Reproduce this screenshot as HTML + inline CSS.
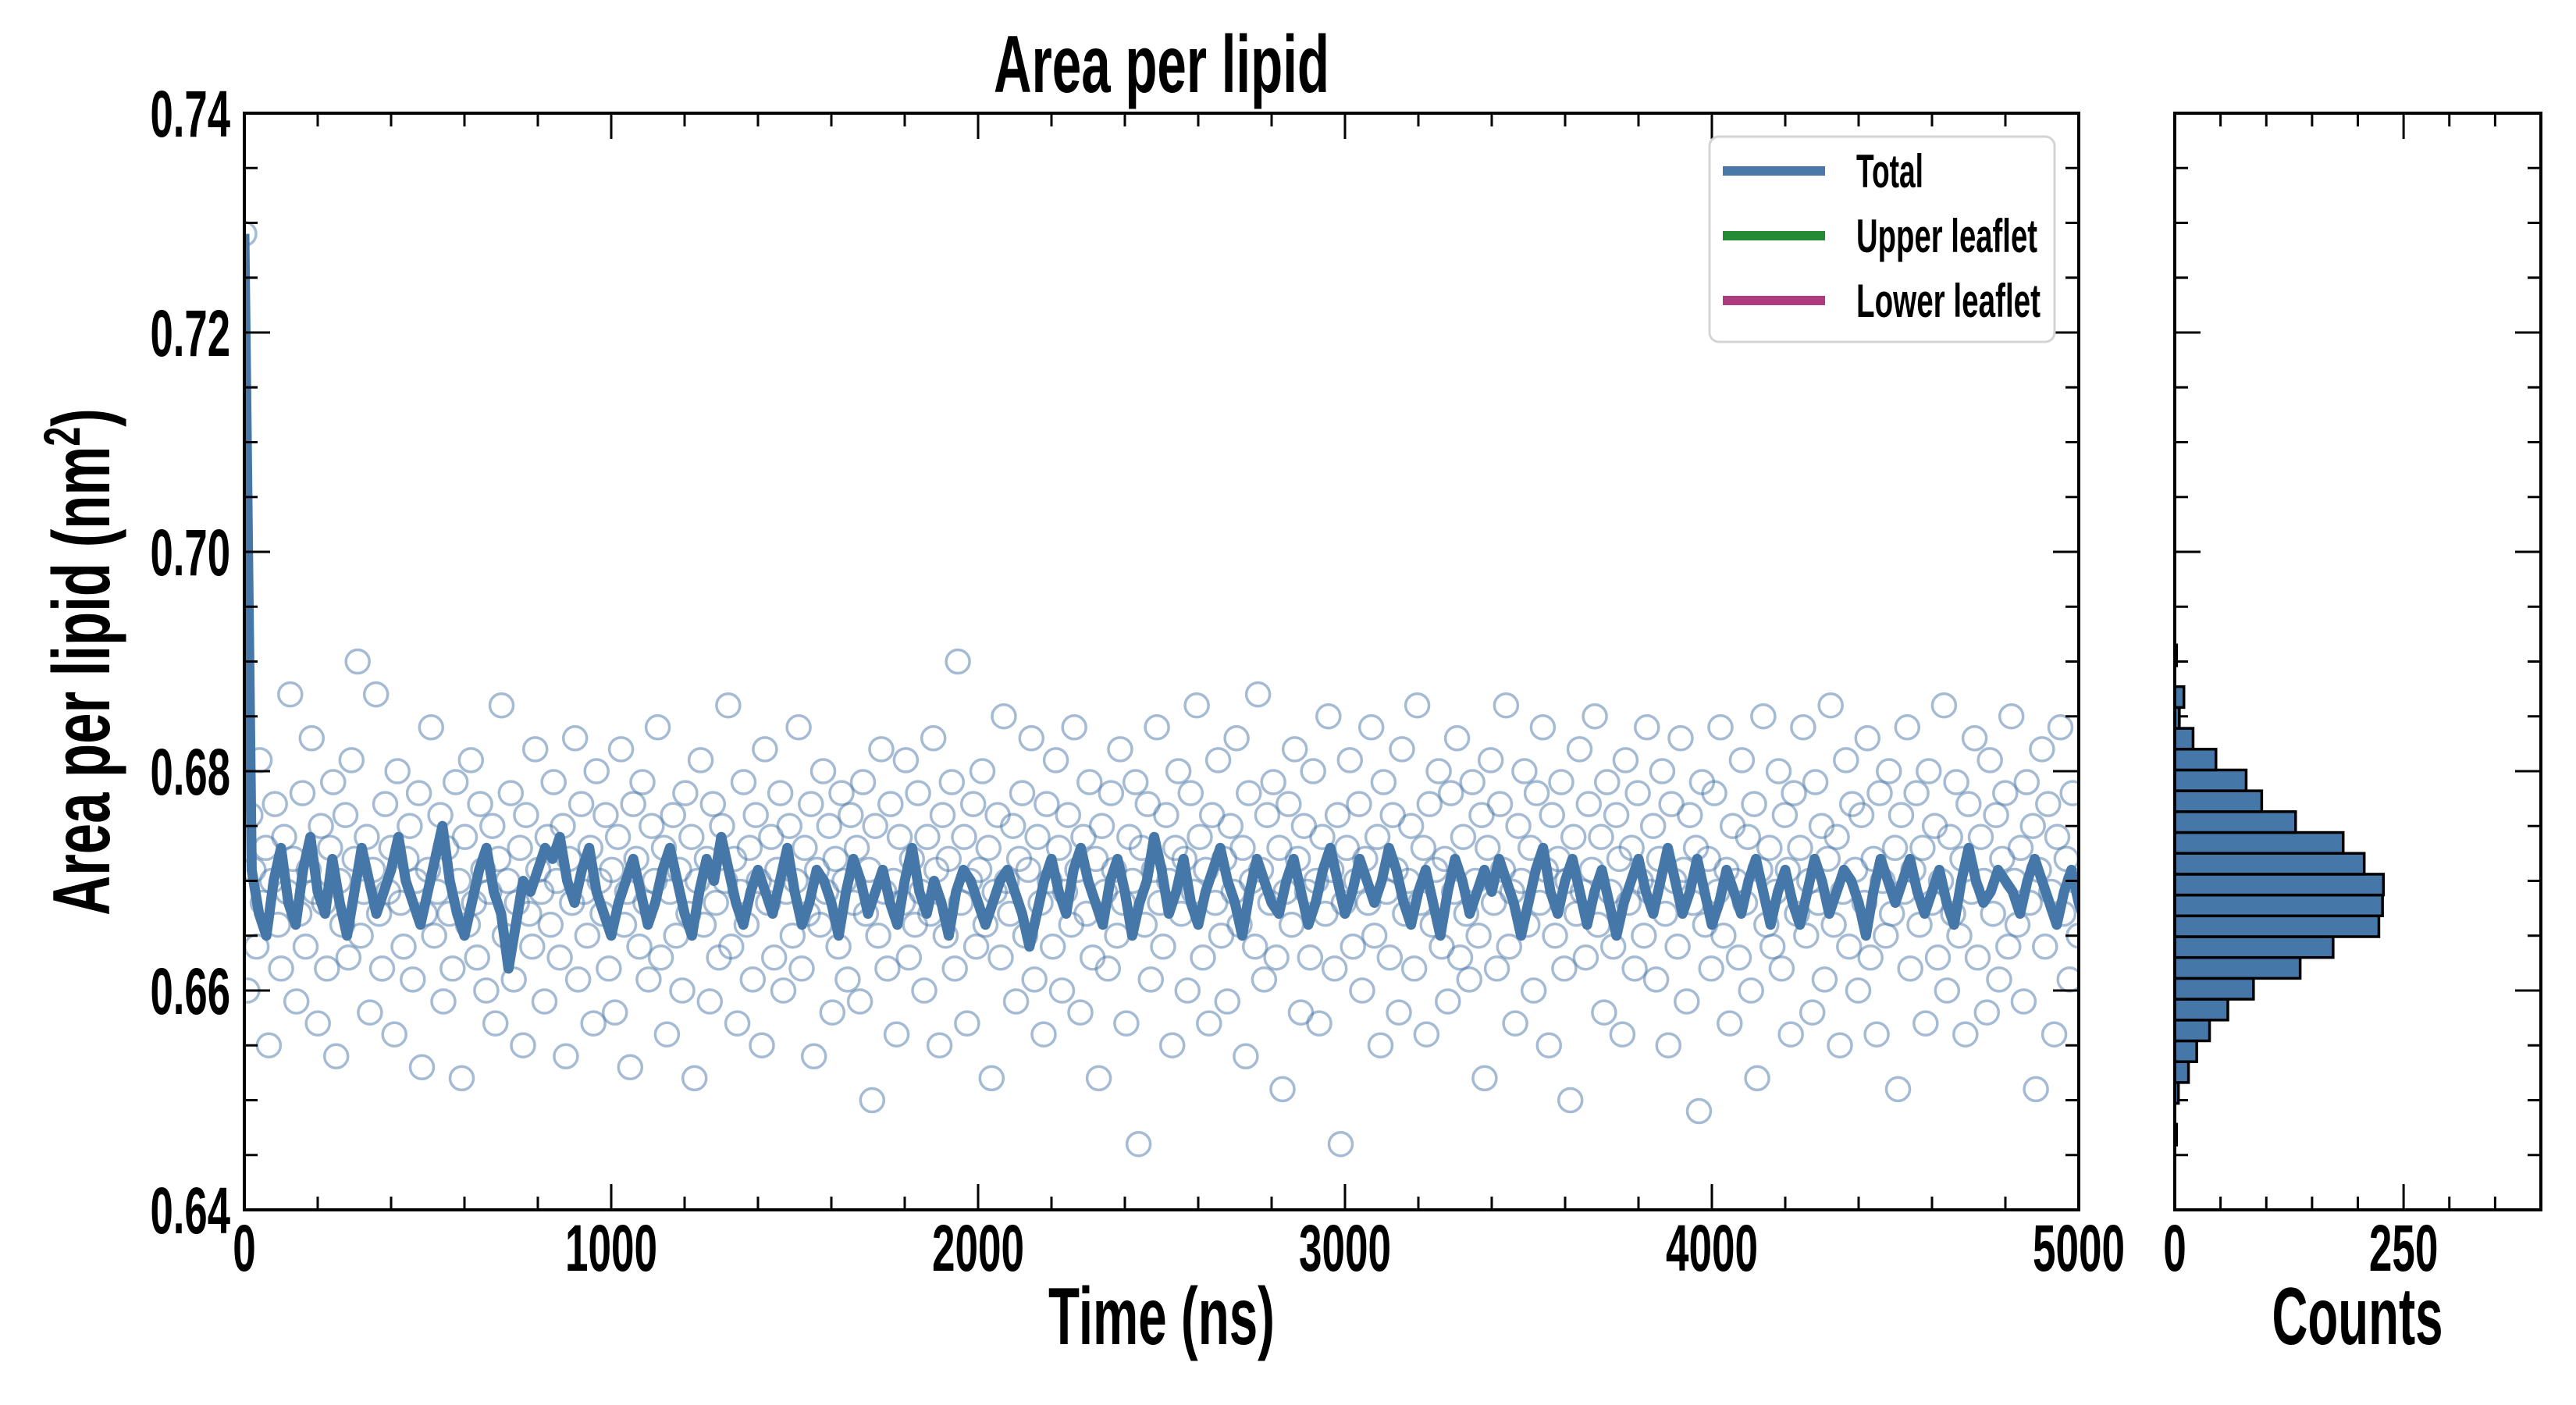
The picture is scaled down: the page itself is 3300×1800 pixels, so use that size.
<!DOCTYPE html>
<html><head><meta charset="utf-8">
<style>
html,body{margin:0;padding:0;background:#fff;}
svg{display:block;}
text{font-family:"Liberation Sans Narrow","Liberation Sans",sans-serif;font-weight:bold;fill:#000;}
</style></head>
<body>
<svg id="chart" xmlns="http://www.w3.org/2000/svg" width="3300" height="1800" viewBox="0 0 3300 1800">
<rect x="0" y="0" width="3300" height="1800" fill="#fff"/>
<g id="main"></g>
<g id="hist"></g>
</svg>
<script>
// ---- data ----
const timeRange = [0, 5000];
const yRange = [0.64, 0.74];
const xTickLabels = [0, 1000, 2000, 3000, 4000, 5000];
const yTickLabels = [0.64, 0.66, 0.68, 0.70, 0.72, 0.74];
const countTickLabels = [0, 250];
const countRange = [0, 400];
const lineStep = 20;
const totalLine = [
0.729,0.671,0.667,0.665,0.670,0.673,0.668,0.666,0.671,0.674,
0.669,0.667,0.672,0.668,0.665,0.669,0.673,0.670,0.667,0.669,
0.671,0.674,0.670,0.668,0.666,0.669,0.672,0.675,0.670,0.667,
0.665,0.668,0.671,0.673,0.669,0.667,0.662,0.666,0.670,0.669,
0.671,0.673,0.672,0.674,0.670,0.668,0.671,0.673,0.669,0.667,
0.665,0.668,0.670,0.672,0.669,0.666,0.668,0.671,0.673,0.670,
0.667,0.665,0.669,0.672,0.670,0.674,0.671,0.668,0.666,0.669,
0.671,0.669,0.667,0.670,0.673,0.669,0.666,0.668,0.671,0.670,
0.668,0.665,0.669,0.672,0.670,0.667,0.669,0.671,0.668,0.666,
0.670,0.673,0.669,0.667,0.670,0.668,0.665,0.669,0.671,0.670,
0.668,0.666,0.668,0.670,0.671,0.669,0.667,0.664,0.667,0.670,
0.672,0.669,0.667,0.671,0.673,0.670,0.668,0.666,0.670,0.672,
0.669,0.665,0.668,0.670,0.674,0.671,0.667,0.669,0.672,0.668,
0.666,0.669,0.671,0.673,0.670,0.668,0.665,0.669,0.672,0.670,
0.668,0.667,0.670,0.672,0.669,0.666,0.668,0.671,0.673,0.670,
0.667,0.669,0.672,0.670,0.668,0.670,0.673,0.671,0.668,0.666,
0.669,0.671,0.668,0.665,0.669,0.672,0.670,0.667,0.669,0.671,
0.669,0.672,0.670,0.668,0.665,0.668,0.671,0.673,0.669,0.667,
0.670,0.672,0.669,0.666,0.669,0.671,0.668,0.665,0.668,0.670,
0.672,0.669,0.667,0.670,0.673,0.670,0.667,0.669,0.672,0.669,
0.666,0.668,0.671,0.669,0.667,0.670,0.672,0.669,0.666,0.669,
0.671,0.668,0.666,0.669,0.672,0.670,0.667,0.669,0.671,0.670,
0.668,0.665,0.669,0.672,0.670,0.668,0.670,0.672,0.669,0.667,
0.669,0.671,0.668,0.666,0.670,0.673,0.670,0.668,0.669,0.671,
0.670,0.669,0.667,0.670,0.672,0.670,0.668,0.666,0.669,0.671,
0.668,0.666,0.669,0.671,0.669,0.667,0.670,0.672,0.669,0.667,
0.670,0.671,0.668,0.666,0.669,0.672,0.670,0.668,0.667,0.670,
0.671];
const scatterValues = [
0.729,0.660,0.676,0.671,0.664,0.681,0.668,0.673,0.655,0.670,0.677,0.666,0.662,0.674,0.669,0.687,0.672,0.659,0.667,0.678,
0.664,0.671,0.683,0.669,0.657,0.675,0.668,0.662,0.673,0.679,0.654,0.670,0.666,0.676,0.663,0.681,0.672,0.690,0.665,0.669,
0.674,0.658,0.671,0.687,0.667,0.662,0.677,0.669,0.673,0.656,0.680,0.668,0.664,0.672,0.675,0.661,0.670,0.678,0.653,0.667,
0.671,0.684,0.665,0.669,0.676,0.659,0.673,0.667,0.662,0.679,0.670,0.652,0.674,0.666,0.681,0.668,0.663,0.677,0.671,0.660,
0.669,0.675,0.657,0.672,0.686,0.665,0.670,0.678,0.661,0.668,0.673,0.655,0.676,0.667,0.664,0.682,0.671,0.669,0.659,0.674,
0.666,0.679,0.670,0.663,0.675,0.654,0.672,0.668,0.683,0.661,0.677,0.669,0.665,0.673,0.657,0.680,0.670,0.667,0.676,0.662,
0.671,0.658,0.674,0.682,0.666,0.669,0.653,0.677,0.672,0.664,0.679,0.668,0.661,0.675,0.670,0.684,0.663,0.673,0.656,0.669,
0.676,0.665,0.671,0.660,0.678,0.667,0.674,0.652,0.670,0.681,0.666,0.672,0.659,0.677,0.668,0.663,0.675,0.670,0.686,0.664,
0.672,0.657,0.669,0.679,0.666,0.673,0.661,0.676,0.670,0.655,0.682,0.668,0.674,0.663,0.671,0.678,0.660,0.669,0.675,0.665,
0.670,0.684,0.662,0.673,0.667,0.677,0.654,0.671,0.666,0.680,0.669,0.675,0.658,0.672,0.664,0.678,0.670,0.661,0.676,0.668,
0.673,0.659,0.679,0.667,0.671,0.650,0.675,0.665,0.682,0.669,0.662,0.677,0.670,0.656,0.674,0.668,0.681,0.663,0.672,0.666,
0.678,0.669,0.660,0.674,0.667,0.683,0.671,0.655,0.676,0.665,0.672,0.679,0.662,0.690,0.668,0.674,0.657,0.670,0.677,0.664,
0.671,0.680,0.666,0.673,0.652,0.669,0.676,0.663,0.685,0.670,0.667,0.675,0.659,0.672,0.678,0.665,0.671,0.683,0.661,0.674,
0.668,0.656,0.677,0.670,0.664,0.681,0.673,0.660,0.669,0.676,0.666,0.684,0.671,0.658,0.674,0.667,0.679,0.663,0.672,0.652,
0.675,0.669,0.662,0.678,0.671,0.665,0.682,0.668,0.657,0.674,0.670,0.679,0.646,0.673,0.666,0.677,0.661,0.671,0.684,0.668,
0.664,0.676,0.670,0.655,0.673,0.680,0.667,0.672,0.660,0.678,0.669,0.686,0.674,0.663,0.671,0.657,0.676,0.668,0.681,0.665,
0.672,0.659,0.675,0.669,0.683,0.666,0.673,0.654,0.678,0.670,0.664,0.687,0.671,0.661,0.676,0.668,0.679,0.663,0.673,0.651,
0.669,0.677,0.666,0.682,0.672,0.658,0.675,0.669,0.663,0.680,0.670,0.657,0.674,0.667,0.685,0.671,0.662,0.676,0.646,0.668,
0.673,0.681,0.664,0.670,0.677,0.660,0.672,0.668,0.684,0.665,0.674,0.655,0.679,0.669,0.663,0.676,0.671,0.658,0.682,0.667,
0.670,0.675,0.662,0.686,0.668,0.673,0.656,0.677,0.666,0.671,0.680,0.664,0.672,0.659,0.678,0.669,0.683,0.663,0.674,0.667,
0.661,0.679,0.670,0.665,0.676,0.652,0.673,0.681,0.668,0.662,0.677,0.671,0.686,0.664,0.669,0.657,0.675,0.670,0.680,0.666,
0.673,0.660,0.678,0.668,0.684,0.671,0.655,0.676,0.665,0.672,0.679,0.662,0.670,0.650,0.674,0.667,0.682,0.669,0.663,0.677,
0.671,0.685,0.666,0.674,0.658,0.679,0.669,0.664,0.676,0.672,0.656,0.681,0.668,0.673,0.662,0.678,0.670,0.665,0.684,0.669,
0.675,0.661,0.672,0.680,0.667,0.655,0.677,0.670,0.664,0.683,0.671,0.659,0.676,0.668,0.673,0.649,0.679,0.666,0.672,0.662,
0.678,0.669,0.684,0.665,0.671,0.657,0.675,0.670,0.663,0.681,0.668,0.674,0.660,0.677,0.652,0.671,0.685,0.666,0.673,0.664,
0.669,0.680,0.662,0.676,0.671,0.656,0.678,0.667,0.673,0.684,0.665,0.670,0.658,0.679,0.668,0.675,0.661,0.672,0.686,0.666,
0.674,0.655,0.669,0.681,0.664,0.677,0.671,0.660,0.676,0.668,0.683,0.663,0.672,0.656,0.678,0.670,0.665,0.680,0.667,0.673,
0.651,0.676,0.669,0.684,0.662,0.671,0.678,0.666,0.673,0.657,0.680,0.668,0.675,0.663,0.670,0.686,0.660,0.674,0.667,0.679,
0.665,0.672,0.656,0.677,0.669,0.683,0.663,0.674,0.670,0.658,0.681,0.667,0.676,0.661,0.672,0.678,0.664,0.685,0.670,0.666,
0.673,0.659,0.679,0.668,0.675,0.651,0.671,0.682,0.664,0.677,0.669,0.656,0.674,0.684,0.667,0.672,0.661,0.678,0.670,0.665];
const histStart = 0.64591;
const histBinWidth = 0.0019;
const histCounts = [2,0,4,15,24,38,58,86,137,173,223,227,228,207,184,132,95,78,45,20,5,10,0,2];
const legendLabels = ["Total","Upper leaflet","Lower leaflet"];
const legendColors = ["#4a78a8","#228b33","#b03a7e"];

// ---- layout ----
const NS = "http://www.w3.org/2000/svg";
const L = 313, R = 2663, T = 145, B = 1550;
const HL = 2786, HR = 3255;
function xs(v){ return L + (v - timeRange[0]) / (timeRange[1] - timeRange[0]) * (R - L); }
function ys(v){ return B - (v - yRange[0]) / (yRange[1] - yRange[0]) * (B - T); }
function cs(v){ return HL + (v - countRange[0]) / (countRange[1] - countRange[0]) * (HR - HL); }
function mk(tag, attrs, parent){
  const e = document.createElementNS(NS, tag);
  for (const k in attrs) e.setAttribute(k, attrs[k]);
  parent.appendChild(e);
  return e;
}
function cw(s){ let w=0; for (const c of String(s)) w += (c==='.')?14:29.5; return w; }
const main = document.getElementById('main');
const hist = document.getElementById('hist');

const defs = mk('defs', {}, document.getElementById('chart'));
const cp = mk('clipPath', {id:'clipMain'}, defs);
mk('rect', {x:L, y:T, width:R-L, height:B-T}, cp);

// scatter
const sg = mk('g', {'clip-path':'url(#clipMain)'}, main);


scatterValues.forEach((v, i) => {
  const t = timeRange[0] + i * (timeRange[1] - timeRange[0]) / (scatterValues.length - 1);
  const c = mk('circle', {cx:xs(t).toFixed(1), cy:ys(v).toFixed(1), r:15, fill:'none', stroke:'#4a78a8', 'stroke-width':3.5, 'stroke-opacity':0.5}, sg);
  
  
});
// line
const pts = totalLine.map((v, i) => xs(i * lineStep).toFixed(1) + ',' + ys(v).toFixed(1)).join(' ');
const pl = mk('polyline', {points:pts, fill:'none', stroke:'#4577a8', 'stroke-width':13, 'stroke-linejoin':'round', 'clip-path':'url(#clipMain)'}, main);



// main ticks
const tg = mk('g', {stroke:'#000', 'stroke-width':3}, main);


for (let t = 0; t <= 5000; t += 200) {
  const len = (t % 1000 === 0) ? 33 : 17;
  const x = xs(t);
  mk('line', {x1:x, y1:B, x2:x, y2:B-len}, tg);
  mk('line', {x1:x, y1:T, x2:x, y2:T+len}, tg);
}
for (let k = 0; k <= 20; k++) {
  const v = 0.64 + k * 0.005;
  const len = (k % 4 === 0) ? 33 : 17;
  const y = ys(v);
  mk('line', {x1:L, y1:y, x2:L+len, y2:y}, tg);
  mk('line', {x1:R, y1:y, x2:R-len, y2:y}, tg);
  mk('line', {x1:HL, y1:y, x2:HL+len, y2:y}, tg);
  mk('line', {x1:HR, y1:y, x2:HR-len, y2:y}, tg);
}
const fr = mk('rect', {x:L, y:T, width:R-L, height:B-T, fill:'none', stroke:'#000', 'stroke-width':4}, main);



xTickLabels.forEach(v => {
  const s = String(v);
  const t = mk('text', {x:xs(v), y:1628, 'font-size':84, 'text-anchor':'middle', textLength:cw(s), lengthAdjust:'spacingAndGlyphs'}, main);
  t.textContent = s;
  
  
});
yTickLabels.forEach(v => {
  const s = v.toFixed(2);
  const t = mk('text', {x:295, y:ys(v)+30, 'font-size':84, 'text-anchor':'end', textLength:cw(s), lengthAdjust:'spacingAndGlyphs'}, main);
  t.textContent = s;
  
  
});

let e = mk('text', {x:1488, y:118, 'font-size':104, 'text-anchor':'middle', textLength:430, lengthAdjust:'spacingAndGlyphs'}, main);
e.textContent = 'Area per lipid';


e = mk('text', {x:1488, y:1722, 'font-size':104, 'text-anchor':'middle', textLength:290, lengthAdjust:'spacingAndGlyphs'}, main);
e.textContent = 'Time (ns)';


e = mk('text', {x:3020, y:1722, 'font-size':104, 'text-anchor':'middle', textLength:219, lengthAdjust:'spacingAndGlyphs'}, main);
e.textContent = 'Counts';


const yg = mk('g', {}, main);


const yt = mk('text', {x:0, y:0, 'font-size':104, 'text-anchor':'middle'}, yg);
yt.innerHTML = 'Area per lipid (nm<tspan dy="-38" font-size="66">2</tspan><tspan dy="38">)</tspan>';
yg.setAttribute('transform', 'translate(140,848) rotate(-90) scale(0.68,1)');

const lg = mk('g', {}, main);


mk('rect', {x:2190, y:175, width:442, height:263, rx:12, fill:'#fff', 'fill-opacity':0.85, stroke:'#d4d4d4', 'stroke-width':3}, lg);
const lw = [86, 232, 236];
legendLabels.forEach((s, i) => {
  const y = 219 + i * 83;
  const ln = mk('line', {x1:2207, y1:y, x2:2338, y2:y, stroke:legendColors[i], 'stroke-width':12}, lg);
  
  
  const t = mk('text', {x:2378, y:y+21, 'font-size':60, textLength:lw[i], lengthAdjust:'spacingAndGlyphs'}, lg);
  t.textContent = s;
  
  
});

const bg = mk('g', {}, hist);


histCounts.forEach((c, i) => {
  const lo = histStart + i * histBinWidth, hi = lo + histBinWidth;
  if (c <= 0) return;
  const r = mk('rect', {x:cs(0), y:ys(hi), width:cs(c)-cs(0), height:ys(lo)-ys(hi), fill:'#4577a8', stroke:'#000', 'stroke-width':3.5}, bg);
  
  
});
const hg = mk('g', {stroke:'#000', 'stroke-width':3}, hist);


for (let c = 0; c <= countRange[1]; c += 50) {
  const len = (c % 250 === 0) ? 33 : 17;
  const x = cs(c);
  mk('line', {x1:x, y1:B, x2:x, y2:B-len}, hg);
  mk('line', {x1:x, y1:T, x2:x, y2:T+len}, hg);
}
const hf = mk('rect', {x:HL, y:T, width:HR-HL, height:B-T, fill:'none', stroke:'#000', 'stroke-width':4}, hist);


countTickLabels.forEach(v => {
  const s = String(v);
  const t = mk('text', {x:cs(v), y:1628, 'font-size':84, 'text-anchor':'middle', textLength:cw(s), lengthAdjust:'spacingAndGlyphs'}, hist);
  t.textContent = s;
  
  
});
</script>
</body></html>
